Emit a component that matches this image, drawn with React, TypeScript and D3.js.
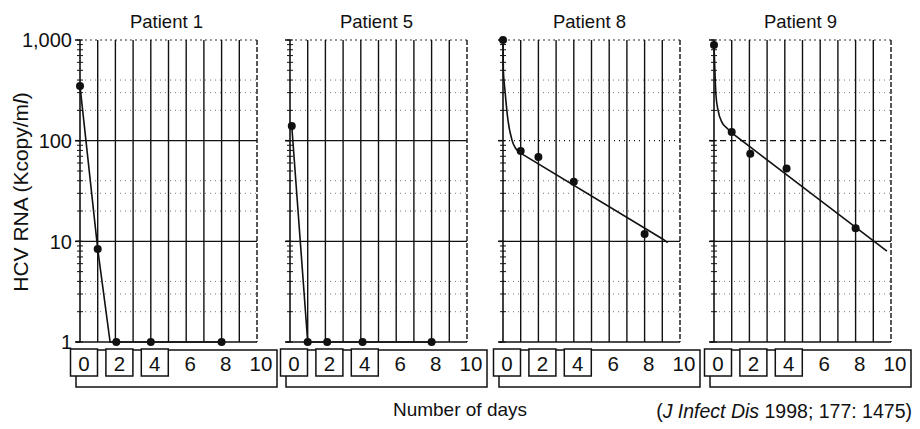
import React from 'react';
import * as d3 from 'd3';

// chart values
const patients = ['Patient 1', 'Patient 5', 'Patient 8', 'Patient 9'];
const gridDays = d3.range(0, 11);
const tickDays = [0, 2, 4, 6, 8, 10];
const boxedDays = [0, 2, 4];
const yTicks = [1, 10, 100, 1000];
const yTickLabels = ['1', '10', '100', '1,000'];

// measured HCV RNA (Kcopy/ml)
const p1Days = [0, 1, 2.05, 4, 8];
const p1Values = [350, 8.4, 1, 1, 1];
const p5Days = [0.1, 1, 2.1, 4.1, 8];
const p5Values = [140, 1, 1, 1, 1];
const p8Days = [0, 1, 2, 4, 8];
const p8Values = [1000, 79, 69, 39, 11.8];
const p9Days = [0, 1, 2.05, 4.1, 8];
const p9Values = [890, 122, 74, 53, 13.5];

// fitted decay curves: a fast curved drop, then a straight second phase
const fit1Curve: number[][] = [];
const fit1Days = [0, 1, 1.7, 8];
const fit1Values = [350, 8.4, 1, 1];
const fit5Curve: number[][] = [];
const fit5Days = [0.1, 1, 8];
const fit5Values = [140, 1, 1];
const fit8Curve = [[0, 1000], [0.02, 500], [0.11, 318], [0.28, 160], [0.51, 101], [0.9, 77]];
const fit8Days = [0.9, 9.04, 9.3];
const fit8Values = [77, 10.5, 9.7];
const fit9Curve = [[0, 890], [0.06, 447], [0.11, 284], [0.23, 200], [0.45, 152], [0.74, 133], [1.02, 119]];
const fit9Days = [1.02, 9.77];
const fit9Values = [119, 8];

const obsDays = [p1Days, p5Days, p8Days, p9Days];
const obsValues = [p1Values, p5Values, p8Values, p9Values];
const fitCurves = [fit1Curve, fit5Curve, fit8Curve, fit9Curve];
const fitDays = [fit1Days, fit5Days, fit8Days, fit9Days];
const fitValues = [fit1Values, fit5Values, fit8Values, fit9Values];

// layout
const W = 920;
const H = 429;
const panelX = [80, 290, 503, 714];
const panelW = 177;
const top = 40;
const bottom = 342;
const ink = '#111';
// how the 100 reference line shows up in each scanned panel
const line100Dash = ['', '', '1,4', '6,4'];

const y = d3.scaleLog().domain([1, 1000]).range([bottom, top]);
const minorGrid = y.ticks().filter((v) => [2, 3, 4].includes(+String(v)[0]) && v < 1000);
const smooth = d3.line<[number, number]>().curve(d3.curveMonotoneX);
const straight = d3.line<[number, number]>();

const Panel: React.FC<{ i: number }> = ({ i }) => {
  const x = d3.scaleLinear().domain([0, 10]).range([panelX[i], panelX[i] + panelW]);
  const pts = obsDays[i].map((d, k) => [x(d), y(obsValues[i][k])] as [number, number]);
  const curve = fitCurves[i].map((p) => [x(p[0]), y(p[1])] as [number, number]);
  const fit = fitDays[i].map((d, k) => [x(d), y(fitValues[i][k])] as [number, number]);
  const x0 = x(0);
  const x10 = x(10);
  return (
    <g>
      <text x={(x0 + x10) / 2 - 2} y={28} textAnchor="middle" fontSize={18.5}>
        {patients[i]}
      </text>
      {minorGrid.map((v) => (
        <line key={'m' + v} x1={x0} x2={x10} y1={y(v)} y2={y(v)}
          stroke="#777" strokeWidth={1} strokeDasharray="1,4" />
      ))}
      <line x1={x0} x2={x10} y1={top} y2={top} stroke="#333" strokeWidth={1.2} strokeDasharray="2,3" />
      {gridDays.map((d) => (
        <line key={'v' + d} x1={x(d)} x2={x(d)} y1={top} y2={bottom}
          stroke={ink} strokeWidth={d === 0 ? 1.6 : 1.4}
          strokeDasharray={d === 10 ? '5,2' : ''} />
      ))}
      <line x1={x0 - 4} x2={x10} y1={y(100)} y2={y(100)} stroke={ink} strokeWidth={1.4}
        strokeDasharray={line100Dash[i]} />
      <line x1={x0 - 4} x2={x10} y1={y(10)} y2={y(10)} stroke={ink} strokeWidth={1.4} />
      <line x1={x0 - 4} x2={x10} y1={bottom} y2={bottom} stroke={ink} strokeWidth={1.6} />
      {y.ticks().map((v) => (
        <line key={'t' + v} x1={x0 - 3} x2={x0 + 3} y1={y(v)} y2={y(v)} stroke={ink} strokeWidth={1} />
      ))}
      {yTicks.map((v) => (
        <line key={'T' + v} x1={x0 - 5} x2={x0} y1={y(v)} y2={y(v)} stroke={ink} strokeWidth={1.5} />
      ))}
      {curve.length > 0 && <path d={smooth(curve) || ''} fill="none" stroke={ink} strokeWidth={1.6} />}
      <path d={straight(fit) || ''} fill="none" stroke={ink} strokeWidth={1.6} />
      {pts.map((p, k) => (
        <circle key={'p' + k} cx={p[0]} cy={p[1]} r={4} fill={ink} />
      ))}
      <rect x={x0 - 4} y={350} width={x10 + 20 - (x0 - 4)} height={37} fill="none" stroke={ink} strokeWidth={1.5} />
      {boxedDays.map((d) => (
        <rect key={'b' + d} x={x(d) + 4 - 13.5} y={349} width={27} height={27}
          fill="#fff" stroke={ink} strokeWidth={1.5} />
      ))}
      {tickDays.map((d) => (
        <text key={'l' + d} x={x(d) + 4} y={370.5} textAnchor="middle" fontSize={20.5}>
          {d}
        </text>
      ))}
    </g>
  );
};

export default function App() {
  return (
    <svg width={W} height={H} style={{ position: 'absolute', left: 0, top: 0, background: '#fff' }}
      fontFamily="'Liberation Sans', Arial, Helvetica, sans-serif" fill={ink}>
      <rect width={W} height={H} fill="#fff" />
      {patients.map((p, i) => (
        <Panel key={p} i={i} />
      ))}
      {yTicks.map((v, k) => (
        <text key={v} x={72} y={y(v)} dy="0.36em" textAnchor="end" fontSize={20}>
          {yTickLabels[k]}
        </text>
      ))}
      <text transform="translate(28,192) rotate(-90)" textAnchor="middle" fontSize={21}>
        HCV RNA (Kcopy/m<tspan fontStyle="italic">l</tspan>)
      </text>
      <text x={460} y={416} textAnchor="middle" fontSize={19}>Number of days</text>
      <text x={912} y={418} textAnchor="end" fontSize={19.5}>
        (<tspan fontStyle="italic">J Infect Dis</tspan> 1998; 177: 1475)
      </text>
    </svg>
  );
}
